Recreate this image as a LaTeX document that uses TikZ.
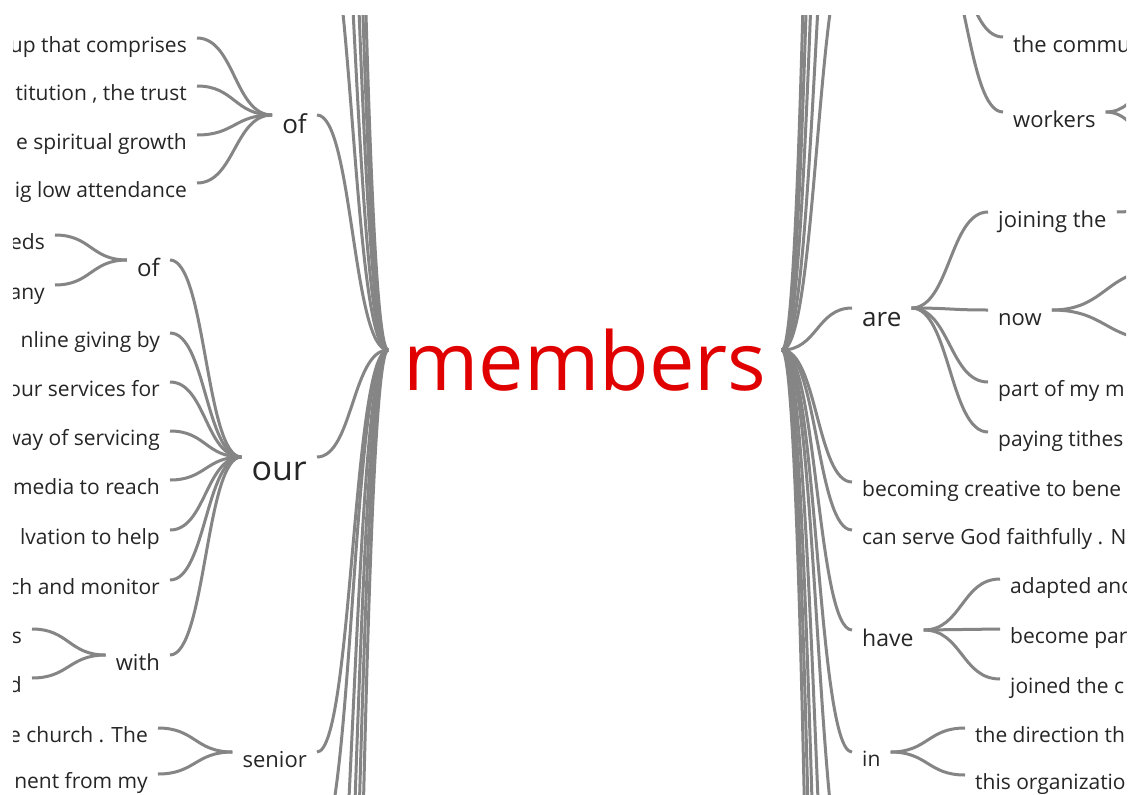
\documentclass[tikz,border=0pt]{standalone}
\usepackage{fontspec}
\setmainfont{Open Sans}
\usetikzlibrary{calc}
\definecolor{TreeLine}{HTML}{858585}
\definecolor{TreeText}{HTML}{262626}
\definecolor{RootRed}{HTML}{E00000}

\begin{document}
\begin{tikzpicture}[
  x=1pt,y=-1pt,
  word/.style={font=\fontsize{#1}{#1}\selectfont,text=TreeText,inner xsep=10pt,inner ysep=0pt,text height=1.4*#1pt,text depth=0pt},
  word/.default=21,
  root/.style={font=\fontsize{81}{81}\selectfont,text=RootRed,anchor=base,inner sep=0pt},
  twig/.style={draw=TreeLine,line width=3pt},
  branch/.style={to path={let \p1=(\tikztostart),\p2=(\tikztotarget) in
    .. controls ({(\x1+\x2)/2},\y1) and ({(\x1+\x2)/2},\y2) .. (\tikztotarget)}}
]
\useasboundingbox (0,0) rectangle (1135,795);
\fill[white] (0,0) rectangle (1135,795);
\begin{scope}
\clip (13,15) rectangle (1126,795);

\node[root] (members) at (585,390) {members};
\coordinate (mL) at (388,350);
\coordinate (mR) at (782,350);

% left side
\node[word=26,anchor=east] (of1) at (317,115) {of};
\node[word,anchor=east] (comprises) at (197,38) {up that comprises};
\node[word,anchor=east] (trust) at (197,86) {titution , the trust};
\node[word,anchor=east] (growth) at (197,135) {e spiritual growth};
\node[word,anchor=east] (attend) at (197,183) {ig low attendance};
\node[word=34,anchor=east] (our) at (317,457) {our};
\node[word=24,anchor=east] (of2) at (170,260) {of};
\node[word,anchor=east] (needs) at (55,235) {eds};
\node[word,anchor=east] (many) at (55,285) {any};
\node[word,anchor=east] (online) at (170,333) {nline giving by};
\node[word,anchor=east] (services) at (170,382) {our services for};
\node[word,anchor=east] (servicing) at (170,431) {way of servicing};
\node[word,anchor=east] (media) at (170,480) {media to reach};
\node[word,anchor=east] (salvation) at (170,530) {lvation to help};
\node[word,anchor=east] (monitor) at (170,580) {ch and monitor};
\node[word=22,anchor=east] (with) at (170,655) {with};
\node[word,anchor=east] (withS) at (32,629) {s};
\node[word,anchor=east] (withD) at (32,678) {d};
\node[word=22,anchor=east] (senior) at (317,752) {senior};
\node[word,anchor=east] (church) at (158,728) {e church . The};
\node[word,anchor=east] (ment) at (158,774) {nent from my};

% right side
\node[word=22,anchor=west] (commu) at (1003,37) {the commu};
\node[word=22,anchor=west] (workers) at (1003,112) {workers};
\node[word=26,anchor=west] (are) at (852,308) {are};
\node[word=22,anchor=west] (joining) at (988,212) {joining the};
\node[word=22,anchor=west] (now) at (988,310) {now};
\node[word,anchor=west] (part) at (988,382) {part of my m};
\node[word,anchor=west] (tithes) at (988,432) {paying tithes};
\node[word,anchor=west] (creative) at (852,482) {becoming creative to bene};
\node[word,anchor=west] (faithful) at (852,530) {can serve God faithfully . N};
\node[word=23,anchor=west] (have) at (852,630) {have};
\node[word,anchor=west] (adapted) at (1000,579) {adapted and};
\node[word,anchor=west] (becomepart) at (1000,629) {become par};
\node[word,anchor=west] (joined) at (1000,679) {joined the c};
\node[word,anchor=west] (in) at (852,752) {in};
\node[word,anchor=west] (direction) at (965,728) {the direction th};
\node[word,anchor=west] (organization) at (965,775) {this organizatio};

% branches leaving the frame
\coordinate (upL1) at (317,-100);
\coordinate (upL2) at (317,-350);
\coordinate (upL3) at (317,-700);
\coordinate (upL4) at (317,-1100);
\coordinate (upL5) at (317,-1600);
\coordinate (downL1) at (317,850);
\coordinate (downL2) at (317,1100);
\coordinate (downL3) at (317,1400);
\coordinate (downL4) at (317,1800);
\coordinate (downL5) at (317,2400);
\coordinate (peopleW) at (852,-60);
\coordinate (peopleE) at (930,-60);
\coordinate (upR1) at (852,-300);
\coordinate (upR2) at (852,-700);
\coordinate (upR3) at (852,-1200);
\coordinate (upR4) at (852,-1800);
\coordinate (downR1) at (852,900);
\coordinate (downR2) at (852,1200);
\coordinate (downR3) at (852,1600);
\coordinate (downR4) at (852,2100);
\coordinate (downR5) at (852,2800);
\coordinate (workersA) at (1180,60);
\coordinate (workersB) at (1180,170);
\coordinate (joiningA) at (1170,205);
\coordinate (nowA) at (1160,270);
\coordinate (nowB) at (1160,340);

% left connectors
\draw[twig] (mL) to[branch] (of1.east);
\draw[twig] (of1.west) to[branch] (comprises.east);
\draw[twig] (of1.west) to[branch] (trust.east);
\draw[twig] (of1.west) to[branch] (growth.east);
\draw[twig] (of1.west) to[branch] (attend.east);
\draw[twig] (mL) to[branch] (our.east);
\draw[twig] (our.west) to[branch] (of2.east);
\draw[twig] (of2.west) to[branch] (needs.east);
\draw[twig] (of2.west) to[branch] (many.east);
\draw[twig] (our.west) to[branch] (online.east);
\draw[twig] (our.west) to[branch] (services.east);
\draw[twig] (our.west) to[branch] (servicing.east);
\draw[twig] (our.west) to[branch] (media.east);
\draw[twig] (our.west) to[branch] (salvation.east);
\draw[twig] (our.west) to[branch] (monitor.east);
\draw[twig] (our.west) to[branch] (with.east);
\draw[twig] (with.west) to[branch] (withS.east);
\draw[twig] (with.west) to[branch] (withD.east);
\draw[twig] (mL) to[branch] (senior.east);
\draw[twig] (senior.west) to[branch] (church.east);
\draw[twig] (senior.west) to[branch] (ment.east);
\draw[twig] (mL) to[branch] (upL1);
\draw[twig] (mL) to[branch] (upL2);
\draw[twig] (mL) to[branch] (upL3);
\draw[twig] (mL) to[branch] (upL4);
\draw[twig] (mL) to[branch] (upL5);
\draw[twig] (mL) to[branch] (downL1);
\draw[twig] (mL) to[branch] (downL2);
\draw[twig] (mL) to[branch] (downL3);
\draw[twig] (mL) to[branch] (downL4);
\draw[twig] (mL) to[branch] (downL5);

% right connectors
\draw[twig] (mR) to[branch] (peopleW);
\draw[twig] (peopleE) to[branch] (commu.west);
\draw[twig] (peopleE) to[branch] (workers.west);
\draw[twig] (workers.east) to[branch] (workersA);
\draw[twig] (workers.east) to[branch] (workersB);
\draw[twig] (mR) to[branch] (are.west);
\draw[twig] (are.east) to[branch] (joining.west);
\draw[twig] (joining.east) to[branch] (joiningA);
\draw[twig] (are.east) to[branch] (now.west);
\draw[twig] (now.east) to[branch] (nowA);
\draw[twig] (now.east) to[branch] (nowB);
\draw[twig] (are.east) to[branch] (part.west);
\draw[twig] (are.east) to[branch] (tithes.west);
\draw[twig] (mR) to[branch] (creative.west);
\draw[twig] (mR) to[branch] (faithful.west);
\draw[twig] (mR) to[branch] (have.west);
\draw[twig] (have.east) to[branch] (adapted.west);
\draw[twig] (have.east) to[branch] (becomepart.west);
\draw[twig] (have.east) to[branch] (joined.west);
\draw[twig] (mR) to[branch] (in.west);
\draw[twig] (in.east) to[branch] (direction.west);
\draw[twig] (in.east) to[branch] (organization.west);
\draw[twig] (mR) to[branch] (upR1);
\draw[twig] (mR) to[branch] (upR2);
\draw[twig] (mR) to[branch] (upR3);
\draw[twig] (mR) to[branch] (upR4);
\draw[twig] (mR) to[branch] (downR1);
\draw[twig] (mR) to[branch] (downR2);
\draw[twig] (mR) to[branch] (downR3);
\draw[twig] (mR) to[branch] (downR4);
\draw[twig] (mR) to[branch] (downR5);
\end{scope}
\end{tikzpicture}
\end{document}
